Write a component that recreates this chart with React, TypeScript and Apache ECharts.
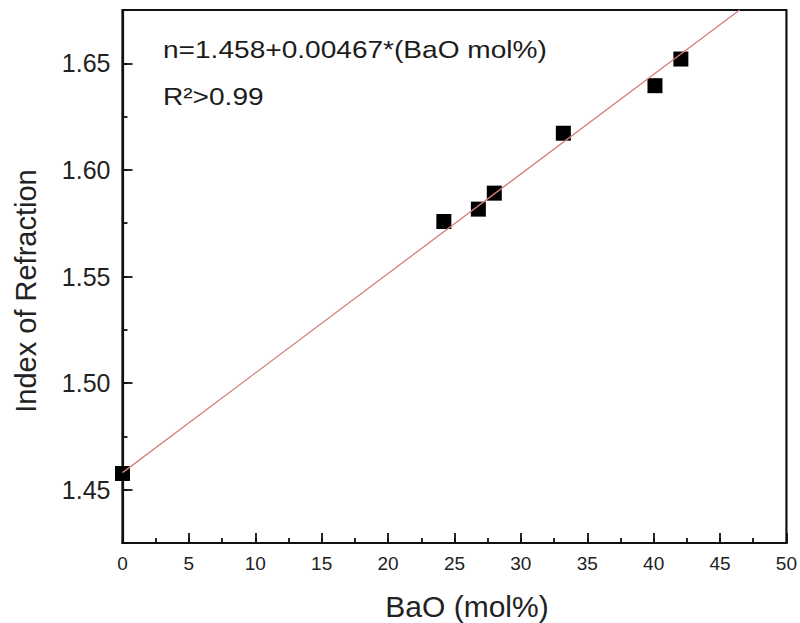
import React, { useEffect, useRef } from "react";
import * as echarts from "echarts";

// Measured data (BaO mol% vs index of refraction)
const baoMol: number[] = [0, 24.2, 26.8, 28.0, 33.2, 40.1, 42.05];
const refrIndex: number[] = [1.4576, 1.5758, 1.5816, 1.5891, 1.6172, 1.6395, 1.652];

// Linear fit endpoints: n = 1.458 + 0.00467 * BaO (drawn until top of plot)
const fitX: number[] = [0, 46.47];
const fitY: number[] = [1.458, 1.675];

const yMajorTicks: number[] = [1.45, 1.5, 1.55, 1.6, 1.65];
const xMajorTicks: number[] = [0, 5, 10, 15, 20, 25, 30, 35, 40, 45, 50];

const equationText = "n=1.458+0.00467*(BaO mol%)";
const r2Text = "R²>0.99";
const xTitle = "BaO (mol%)";
const yTitle = "Index of Refraction";

const FONT = "'Liberation Sans', Arial, Helvetica, sans-serif";
const INK = "#111111";

export default function App() {
  const ref = useRef<HTMLDivElement>(null);

  useEffect(() => {
    if (!ref.current) return;
    const chart = echarts.init(ref.current, undefined, { renderer: "svg" });

    const points = baoMol.map((x, i) => [x, refrIndex[i]]);
    const fit = fitX.map((x, i) => [x, fitY[i]]);

    const axisLine = { show: true, lineStyle: { color: INK, width: 2.2 } };

    chart.setOption({
      animation: false,
      backgroundColor: "#ffffff",
      grid: {
        left: 122.5,
        right: 12,
        top: 10,
        bottom: 80,
        show: true,
        borderColor: INK,
        borderWidth: 2.2,
        backgroundColor: "transparent",
      },
      xAxis: [
        {
          type: "value",
          min: 0,
          max: 50,
          interval: 2.5,
          position: "bottom",
          axisLine,
          axisTick: { show: true, inside: true, length: 5, lineStyle: { color: INK, width: 1.8 } },
          axisLabel: {
            show: true,
            margin: 11,
            color: "#222",
            fontFamily: FONT,
            fontSize: 19,
            formatter: (v: number) =>
              xMajorTicks.some((t) => Math.abs(t - v) < 1e-6) ? String(Math.round(v)) : "",
          },
          splitLine: { show: false },
        },
        {
          type: "value",
          min: 0,
          max: 50,
          interval: 5,
          position: "bottom",
          axisLine: { show: false },
          axisTick: { show: true, inside: true, length: 10, lineStyle: { color: INK, width: 1.8 } },
          axisLabel: { show: false },
          splitLine: { show: false },
        },
      ],
      yAxis: [
        {
          type: "value",
          min: 1.425,
          max: 1.675,
          interval: 0.025,
          position: "left",
          axisLine,
          axisTick: { show: true, inside: true, length: 5, lineStyle: { color: INK, width: 1.8 } },
          axisLabel: {
            show: true,
            margin: 12,
            color: "#222",
            fontFamily: FONT,
            fontSize: 25,
            formatter: (v: number) =>
              yMajorTicks.some((t) => Math.abs(t - v) < 1e-6) ? v.toFixed(2) : "",
          },
          splitLine: { show: false },
        },
        {
          type: "value",
          min: 1.425,
          max: 1.675,
          position: "left",
          axisLine: { show: false },
          axisTick: {
            show: true,
            inside: true,
            length: 10,
            customValues: yMajorTicks,
            lineStyle: { color: INK, width: 1.8 },
          },
          axisLabel: { show: false },
          splitLine: { show: false },
        },
      ],
      series: [
        {
          type: "scatter",
          xAxisIndex: 0,
          yAxisIndex: 0,
          data: points,
          symbol: "rect",
          symbolSize: 15,
          itemStyle: { color: "#000000", opacity: 1 },
          z: 2,
        },
        {
          type: "line",
          xAxisIndex: 0,
          yAxisIndex: 0,
          data: fit,
          symbol: "none",
          lineStyle: { color: "#d5807c", width: 1.3 },
          z: 3,
        },
      ],
      graphic: [
        {
          type: "text",
          x: 163,
          y: 50,
          scaleX: 1.17,
          style: {
            text: equationText,
            fontFamily: FONT,
            fontSize: 24,
            fill: "#1c1c1c",
            align: "left",
            verticalAlign: "middle",
          },
        },
        {
          type: "text",
          x: 163,
          y: 97,
          scaleX: 1.17,
          style: {
            text: r2Text,
            fontFamily: FONT,
            fontSize: 24,
            fill: "#1c1c1c",
            align: "left",
            verticalAlign: "middle",
          },
        },
        {
          type: "text",
          x: 467,
          y: 606,
          style: {
            text: xTitle,
            fontFamily: FONT,
            fontSize: 30,
            fill: "#222",
            align: "center",
            verticalAlign: "middle",
          },
        },
        {
          type: "text",
          x: 26,
          y: 291,
          rotation: Math.PI / 2,
          style: {
            text: yTitle,
            fontFamily: FONT,
            fontSize: 29,
            fill: "#222",
            align: "center",
            verticalAlign: "middle",
          },
        },
      ],
    });

    return () => chart.dispose();
  }, []);

  return (
    <div
      ref={ref}
      style={{ position: "fixed", left: 0, top: 0, width: 800, height: 623 }}
    />
  );
}
